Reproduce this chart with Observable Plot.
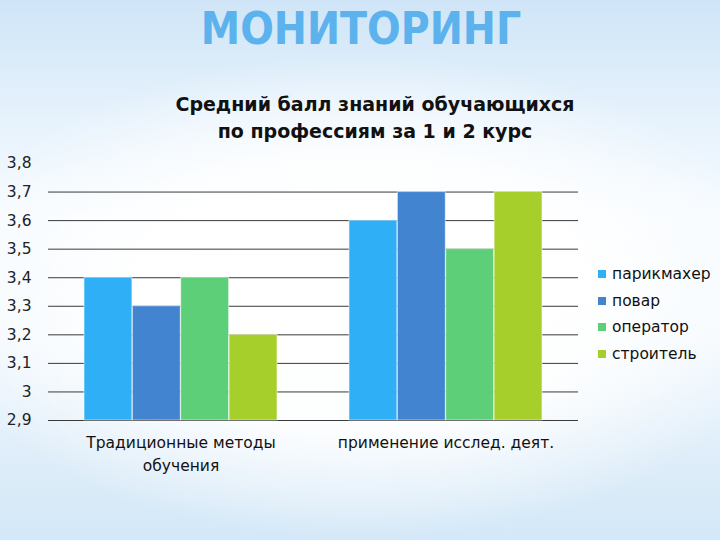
<!DOCTYPE html>
<html>
<head>
<meta charset="utf-8">
<script src="https://cdn.jsdelivr.net/npm/d3@7"></script>
<script src="https://cdn.jsdelivr.net/npm/@observablehq/plot@0.6"></script>
<style>
  html, body { margin: 0; padding: 0; }
  #page {
    position: relative; width: 720px; height: 540px; overflow: hidden;
    font-family: "DejaVu Sans", Verdana, sans-serif;
    background:
      radial-gradient(ellipse 60% 45% at 50% 55%, rgba(255,255,255,1) 0%, rgba(255,255,255,0.9) 55%, rgba(255,255,255,0) 100%),
      linear-gradient(to bottom, #cfe5f7 0%, #e6f2fc 22%, #f6fbff 40%, #f3f9fe 62%, #deedf9 85%, #d3e8f8 100%);
  }
  #main-title {
    position: absolute; left: 0; top: 3px; width: 722px; text-align: center;
    font-family: "DejaVu Sans Condensed", "DejaVu Sans", sans-serif;
    font-size: 44px; font-weight: bold; color: #5cb2ec;
  }
  #chart-title {
    position: absolute; left: 28px; top: 91px; width: 694px; text-align: center;
    font-size: 19px; font-weight: bold; color: #111; line-height: 27px;
  }
  #chart { position: absolute; left: 0; top: 150px; }
  #legend { position: absolute; left: 598px; top: 261px; }
  .item { display: flex; align-items: center; height: 26.6px; font-size: 15.5px; color: #111; }
  .sw { width: 8px; height: 8px; margin-right: 6px; }
</style>
</head>
<body>
<div id="page">
  <div id="main-title">МОНИТОРИНГ</div>
  <div id="chart-title">Средний балл знаний обучающихся<br>по профессиям за 1 и 2 курс</div>
  <div id="chart"></div>
  <div id="legend"></div>
</div>
<script>
// ---- data ----
const groups = ["Традиционные методы\nобучения", "применение исслед. деят."];
const series = ["парикмахер", "повар", "оператор", "строитель"];
const colors = ["#2fb0f6", "#4384d1", "#5ccf78", "#a7cf2b"];
const valuesTraditional = [3.4, 3.3, 3.4, 3.2];
const valuesResearch = [3.6, 3.7, 3.5, 3.7];
const yTicks = [2.9, 3.0, 3.1, 3.2, 3.3, 3.4, 3.5, 3.6, 3.7, 3.8];
const gridTicks = [2.9, 3.0, 3.1, 3.2, 3.3, 3.4, 3.5, 3.6, 3.7];
const yDomain = [2.9, 3.8];

const data = [];
series.forEach((s, k) => {
  data.push({group: groups[0], series: s, k, value: valuesTraditional[k]});
  data.push({group: groups[1], series: s, k, value: valuesResearch[k]});
});

// ---- layout ----
const width = 720, height = 340;
const mL = 48, mR = 142, mT = 13, mB = 70;
const padIn = 0.27, padOut = 0.135;
const step = (width - mL - mR) / (groups.length - padIn + 2 * padOut);
const bw = step * (1 - padIn);
const w = bw / series.length;

const fmt = d => String(Math.round(d * 10) / 10).replace(".", ",");

const barMarks = series.map((s, k) =>
  Plot.barY(data.filter(d => d.k === k), {
    x: "group",
    y1: () => yDomain[0],
    y2: "value",
    fill: colors[k],
    stroke: "#ffffff",
    strokeOpacity: 0.55,
    strokeWidth: 1,
    insetLeft: k * w,
    insetRight: (series.length - 1 - k) * w
  })
);

const chart = Plot.plot({
  width, height,
  marginLeft: mL, marginRight: mR, marginTop: mT, marginBottom: mB,
  style: {background: "transparent", fontFamily: "'DejaVu Sans', Verdana, sans-serif", color: "#222"},
  x: {domain: groups, type: "band", paddingInner: padIn, paddingOuter: padOut, axis: null, label: null},
  y: {domain: yDomain, axis: null, label: null},
  marks: [
    Plot.ruleY(gridTicks, {stroke: "#3a3a3a", strokeWidth: 1}),
    ...barMarks,
    Plot.axisY(yTicks, {tickSize: 0, tickPadding: 17, tickFormat: fmt, fontSize: 15.5, fill: "#222", label: null}),
    Plot.text(groups, {x: d => d, text: d => d, frameAnchor: "bottom", dy: 12, lineAnchor: "top",
      lineHeight: 1.45, fontSize: 15.5, fill: "#111"})
  ]
});
document.getElementById("chart").appendChild(chart);

// ---- legend ----
const legend = document.getElementById("legend");
series.forEach((s, k) => {
  const it = document.createElement("div");
  it.className = "item";
  it.innerHTML = `<span class="sw" style="background:${colors[k]}"></span><span>${s}</span>`;
  legend.appendChild(it);
});
</script>
</body>
</html>
